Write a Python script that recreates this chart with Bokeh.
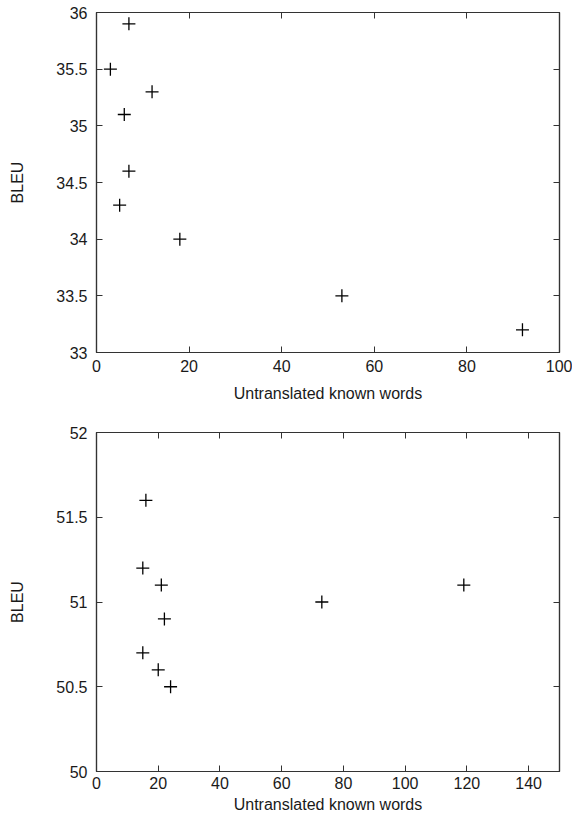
from bokeh.plotting import figure
from bokeh.layouts import column
from bokeh.models import FixedTicker, LinearAxis, Range1d, CustomJSTickFormatter
from bokeh.embed import file_html
from bokeh.resources import INLINE

# Top chart data
top_x = [7, 3, 12, 6, 7, 5, 18, 53, 92]
top_y = [35.9, 35.5, 35.3, 35.1, 34.6, 34.3, 34.0, 33.5, 33.2]
top_xticks = [0, 20, 40, 60, 80, 100]
top_yticks = [33, 33.5, 34, 34.5, 35, 35.5, 36]

# Bottom chart data
bot_x = [16, 15, 21, 22, 15, 20, 24, 73, 119]
bot_y = [51.6, 51.2, 51.1, 50.9, 50.7, 50.6, 50.5, 51.0, 51.1]
bot_xticks = [0, 20, 40, 60, 80, 100, 120, 140]
bot_yticks = [50, 50.5, 51, 51.5, 52]

x_label = "Untranslated known words"
y_label = "BLEU"

FONT = "Liberation Sans"
FRAME = "#333333"
TXT = "#1a1a1a"


def style_axis(ax, ticks, labels=True):
    ax.ticker = FixedTicker(ticks=ticks)
    ax.axis_line_color = FRAME
    ax.axis_line_width = 1.2
    ax.major_tick_line_color = FRAME
    ax.major_tick_in = 6
    ax.major_tick_out = 0
    ax.minor_tick_line_color = None
    ax.major_label_text_font = FONT
    ax.major_label_text_color = TXT
    ax.major_label_text_font_size = "16px"
    if not labels:
        ax.formatter = CustomJSTickFormatter(code="return ''")
        ax.major_label_standoff = 0


def make_plot(xs, ys, xr, yr, xticks, yticks, height, top_b, bottom_b, xstand, xlabstand):
    p = figure(width=572, height=height, output_backend="svg", toolbar_location=None,
               x_range=Range1d(*xr), y_range=Range1d(*yr),
               min_border_left=96, min_border_right=13,
               min_border_top=top_b, min_border_bottom=bottom_b)
    p.grid.visible = False
    p.outline_line_color = FRAME
    p.outline_line_width = 1.2
    p.background_fill_color = "white"
    p.border_fill_color = "white"
    style_axis(p.xaxis[0], xticks)
    style_axis(p.yaxis[0], yticks)
    p.xaxis[0].axis_label = x_label
    p.yaxis[0].axis_label = y_label
    for ax in (p.xaxis[0], p.yaxis[0]):
        ax.axis_label_text_font = FONT
        ax.axis_label_text_font_size = "16px"
        ax.axis_label_text_font_style = "normal"
        ax.axis_label_text_color = TXT
    p.xaxis[0].major_label_standoff = xstand
    p.xaxis[0].axis_label_standoff = xlabstand
    p.yaxis[0].major_label_standoff = 9
    p.yaxis[0].axis_label_standoff = 27
    # mirrored ticks (gnuplot style)
    ax_top = LinearAxis()
    style_axis(ax_top, xticks, labels=False)
    p.add_layout(ax_top, "above")
    ax_right = LinearAxis()
    style_axis(ax_right, yticks, labels=False)
    p.add_layout(ax_right, "right")
    p.scatter(xs, ys, marker="cross", size=13, line_color="black", line_width=1.3)
    return p


p1 = make_plot(top_x, top_y, (0, 100), (33, 36), top_xticks, top_yticks, 410, 12, 58, 7, 10)
p2 = make_plot(bot_x, bot_y, (0, 150), (50, 52), bot_xticks, bot_yticks, 407, 22, 46, 5, 4)

layout = column(p1, p2)
open("out.html", "w").write(file_html(layout, INLINE))
